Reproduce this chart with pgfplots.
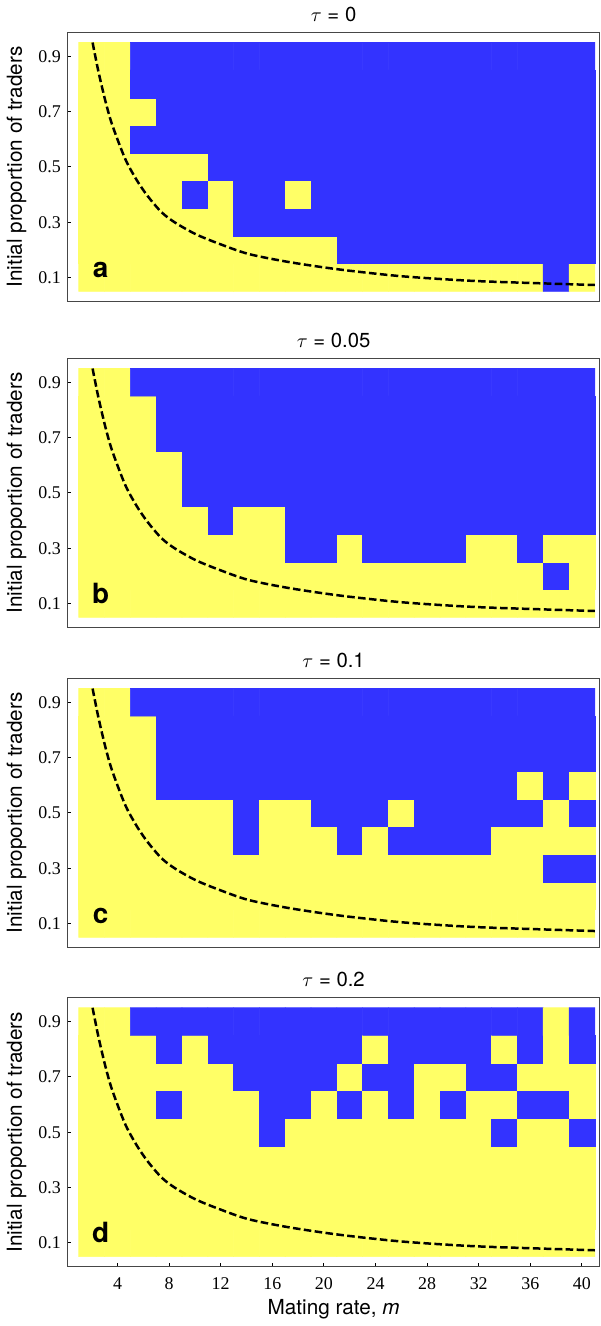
\documentclass[border=0pt]{standalone}
\usepackage{fontspec}
\setmainfont{TeX Gyre Heros}
\newfontfamily\tickfont{Liberation Serif}
\usepackage{pgfplots}
\usepackage{pgfplotstable}
\pgfplotsset{compat=1.18}

\definecolor{framegray}{RGB}{70,70,70}

% cell state: 1 = blue (traders win), 0 = yellow; columns a..d are the four panels
\pgfplotstableread{
m p a b c d
2 0.1 0 0 0 0
4 0.1 0 0 0 0
6 0.1 0 0 0 0
8 0.1 0 0 0 0
10 0.1 0 0 0 0
12 0.1 0 0 0 0
14 0.1 0 0 0 0
16 0.1 0 0 0 0
18 0.1 0 0 0 0
20 0.1 0 0 0 0
22 0.1 0 0 0 0
24 0.1 0 0 0 0
26 0.1 0 0 0 0
28 0.1 0 0 0 0
30 0.1 0 0 0 0
32 0.1 0 0 0 0
34 0.1 0 0 0 0
36 0.1 0 0 0 0
38 0.1 1 0 0 0
40 0.1 0 0 0 0
2 0.2 0 0 0 0
4 0.2 0 0 0 0
6 0.2 0 0 0 0
8 0.2 0 0 0 0
10 0.2 0 0 0 0
12 0.2 0 0 0 0
14 0.2 0 0 0 0
16 0.2 0 0 0 0
18 0.2 0 0 0 0
20 0.2 0 0 0 0
22 0.2 1 0 0 0
24 0.2 1 0 0 0
26 0.2 1 0 0 0
28 0.2 1 0 0 0
30 0.2 1 0 0 0
32 0.2 1 0 0 0
34 0.2 1 0 0 0
36 0.2 1 0 0 0
38 0.2 1 1 0 0
40 0.2 1 0 0 0
2 0.3 0 0 0 0
4 0.3 0 0 0 0
6 0.3 0 0 0 0
8 0.3 0 0 0 0
10 0.3 0 0 0 0
12 0.3 0 0 0 0
14 0.3 1 0 0 0
16 0.3 1 0 0 0
18 0.3 1 1 0 0
20 0.3 1 1 0 0
22 0.3 1 0 0 0
24 0.3 1 1 0 0
26 0.3 1 1 0 0
28 0.3 1 1 0 0
30 0.3 1 1 0 0
32 0.3 1 0 0 0
34 0.3 1 0 0 0
36 0.3 1 1 0 0
38 0.3 1 0 1 0
40 0.3 1 0 1 0
2 0.4 0 0 0 0
4 0.4 0 0 0 0
6 0.4 0 0 0 0
8 0.4 0 0 0 0
10 0.4 1 0 0 0
12 0.4 0 1 0 0
14 0.4 1 0 1 0
16 0.4 1 0 0 0
18 0.4 0 1 0 0
20 0.4 1 1 0 0
22 0.4 1 1 1 0
24 0.4 1 1 0 0
26 0.4 1 1 1 0
28 0.4 1 1 1 0
30 0.4 1 1 1 0
32 0.4 1 1 1 0
34 0.4 1 1 0 0
36 0.4 1 1 0 0
38 0.4 1 1 0 0
40 0.4 1 1 0 0
2 0.5 0 0 0 0
4 0.5 0 0 0 0
6 0.5 0 0 0 0
8 0.5 0 0 0 0
10 0.5 0 1 0 0
12 0.5 1 1 0 0
14 0.5 1 1 1 0
16 0.5 1 1 0 1
18 0.5 1 1 0 0
20 0.5 1 1 1 0
22 0.5 1 1 1 0
24 0.5 1 1 1 0
26 0.5 1 1 0 0
28 0.5 1 1 1 0
30 0.5 1 1 1 0
32 0.5 1 1 1 0
34 0.5 1 1 1 1
36 0.5 1 1 1 0
38 0.5 1 1 0 0
40 0.5 1 1 1 1
2 0.6 0 0 0 0
4 0.6 0 0 0 0
6 0.6 1 0 0 0
8 0.6 1 0 1 1
10 0.6 1 1 1 0
12 0.6 1 1 1 0
14 0.6 1 1 1 0
16 0.6 1 1 1 1
18 0.6 1 1 1 1
20 0.6 1 1 1 0
22 0.6 1 1 1 1
24 0.6 1 1 1 0
26 0.6 1 1 1 1
28 0.6 1 1 1 0
30 0.6 1 1 1 1
32 0.6 1 1 1 0
34 0.6 1 1 1 0
36 0.6 1 1 0 1
38 0.6 1 1 1 1
40 0.6 1 1 0 0
2 0.7 0 0 0 0
4 0.7 0 0 0 0
6 0.7 0 0 0 0
8 0.7 1 1 1 0
10 0.7 1 1 1 0
12 0.7 1 1 1 0
14 0.7 1 1 1 1
16 0.7 1 1 1 1
18 0.7 1 1 1 1
20 0.7 1 1 1 1
22 0.7 1 1 1 0
24 0.7 1 1 1 1
26 0.7 1 1 1 1
28 0.7 1 1 1 0
30 0.7 1 1 1 0
32 0.7 1 1 1 1
34 0.7 1 1 1 1
36 0.7 1 1 1 0
38 0.7 1 1 1 0
40 0.7 1 1 1 0
2 0.8 0 0 0 0
4 0.8 0 0 0 0
6 0.8 1 0 0 0
8 0.8 1 1 1 1
10 0.8 1 1 1 0
12 0.8 1 1 1 1
14 0.8 1 1 1 1
16 0.8 1 1 1 1
18 0.8 1 1 1 1
20 0.8 1 1 1 1
22 0.8 1 1 1 1
24 0.8 1 1 1 0
26 0.8 1 1 1 1
28 0.8 1 1 1 1
30 0.8 1 1 1 1
32 0.8 1 1 1 1
34 0.8 1 1 1 0
36 0.8 1 1 1 1
38 0.8 1 1 1 0
40 0.8 1 1 1 1
2 0.9 0 0 0 0
4 0.9 0 0 0 0
6 0.9 1 1 1 1
8 0.9 1 1 1 1
10 0.9 1 1 1 1
12 0.9 1 1 1 1
14 0.9 1 1 1 1
16 0.9 1 1 1 1
18 0.9 1 1 1 1
20 0.9 1 1 1 1
22 0.9 1 1 1 1
24 0.9 1 1 1 1
26 0.9 1 1 1 1
28 0.9 1 1 1 1
30 0.9 1 1 1 1
32 0.9 1 1 1 1
34 0.9 1 1 1 1
36 0.9 1 1 1 1
38 0.9 1 1 1 0
40 0.9 1 1 1 1
}\cells

% dashed threshold curve
\pgfplotstableread{
m p
2.07 0.950
2.5 0.850
3.0 0.750
3.5 0.665
4.2 0.575
4.75 0.514
5.55 0.448
6.35 0.394
7.42 0.336
8.49 0.298
10.1 0.256
12.0 0.220
14.1 0.186
16.8 0.160
19.5 0.140
22.1 0.124
26.2 0.104
31.5 0.088
36.9 0.079
41.0 0.073
}\boundary

\pgfplotsset{
  panel/.style={
    scale only axis, width=267pt, height=135pt,
    anchor=north west,
    xmin=0.15, xmax=41.35, ymin=0.014, ymax=0.986,
    axis line style={framegray, line width=0.65pt},
    tick align=inside, major tick length=1.75pt,
    tick style={black, line width=0.5pt},
    xtick pos=bottom, ytick pos=left,
    ytick={0.1,0.3,0.5,0.7,0.9},
    /pgf/number format/assume math mode=true,
    /pgf/number format/fixed,
    /pgf/number format/precision=1,
    tick label style={font=\tickfont\fontsize{9}{10}\selectfont},
    xticklabel style={yshift=-2pt},
    ylabel={Initial proportion of traders},
    ylabel style={at={(axis description cs:-0.0966,0.5)}, anchor=center,
      font=\fontsize{10.4}{12}\selectfont},
    title style={font=\fontsize{10.2}{12}\selectfont, yshift=-3.9pt},
    colormap={yb}{rgb255=(255,255,102) rgb255=(51,51,255)},
    point meta min=0, point meta max=1,
  },
  cellplot/.style={matrix plot*, shader=faceted, faceted color=mapped color,
    line width=0.3pt, mesh/cols=20, point meta=explicit},
  curve/.style={black, line width=1.25pt, dash pattern=on 3.8pt off 1.7pt, smooth},
}
\tikzset{letter/.style={anchor=base, font=\fontsize{14}{14}\selectfont\bfseries}}

\begin{document}
\begin{tikzpicture}
\begin{axis}[panel, at={(0,0)}, xtick=\empty, title={$\tau$ = 0}]
\addplot[cellplot] table[x=m, y=p, meta=a] {\cells};
\addplot[curve] table[x=m, y=p] {\boundary};
\node[letter] at (axis cs:2.7,0.1) {a};
\end{axis}

\begin{axis}[panel, at={(0,-163.75pt)}, xtick=\empty, title={$\tau$ = 0.05}]
\addplot[cellplot] table[x=m, y=p, meta=b] {\cells};
\addplot[curve] table[x=m, y=p] {\boundary};
\node[letter] at (axis cs:2.7,0.1) {b};
\end{axis}

\begin{axis}[panel, at={(0,-324.5pt)}, xtick=\empty, title={$\tau$ = 0.1}]
\addplot[cellplot] table[x=m, y=p, meta=c] {\cells};
\addplot[curve] table[x=m, y=p] {\boundary};
\node[letter] at (axis cs:2.7,0.1) {c};
\end{axis}

\begin{axis}[panel, at={(0,-484.85pt)}, xtick={4,8,...,40}, title={$\tau$ = 0.2},
  xlabel={Mating rate, \textit{m}},
  xlabel style={at={(axis description cs:0.5,0)}, anchor=center, yshift=-21.6pt,
    font=\fontsize{10.4}{12}\selectfont}]
\addplot[cellplot] table[x=m, y=p, meta=d] {\cells};
\addplot[curve] table[x=m, y=p] {\boundary};
\node[letter] at (axis cs:2.7,0.1) {d};
\end{axis}
\end{tikzpicture}
\end{document}
